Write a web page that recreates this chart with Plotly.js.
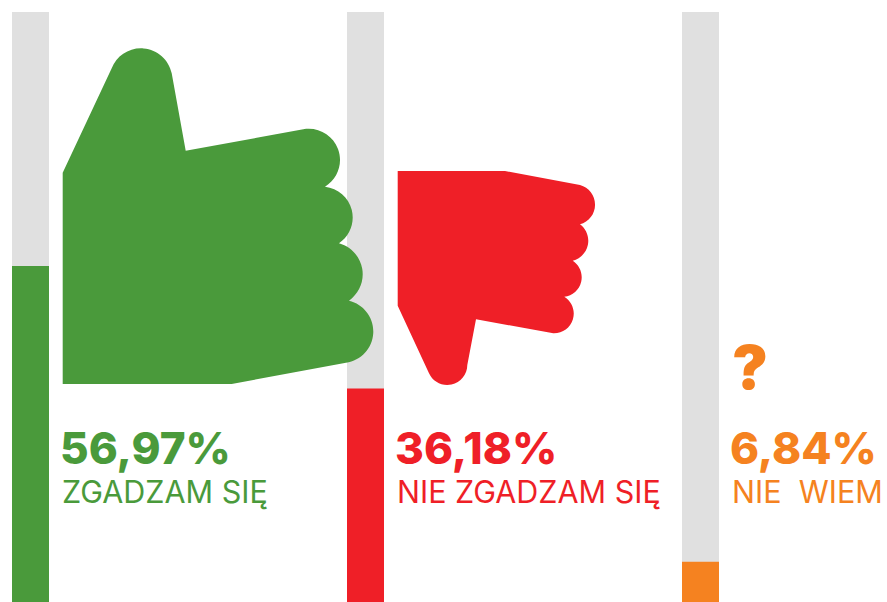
<!DOCTYPE html>
<html>
<head>
<meta charset="utf-8">
<script src="https://cdn.plot.ly/plotly-3.0.1.min.js"></script>
<style>html,body{margin:0;padding:0;background:#fff}#chart{width:887px;height:602px}</style>
</head>
<body>
<div id="chart"></div>
<script>
const categories = ["ZGADZAM SIĘ", "NIE ZGADZAM SIĘ", "NIE  WIEM"];
const values = [56.97, 36.18, 6.84];
const fullScale = [100, 100, 100];
const valueLabels = ["56,97%", "36,18%", "6,84%"];
const colors = ["#4A9A3B", "#EF1F27", "#F58220"];
const trackColor = "#E0E0E0";

const W = 887, H = 602, band = 335, firstCenter = 30.5, barW = 37, topGap = 12;

// Icon outlines: a point is a straight vertex, a triple [start, through, end] is a rounded arc.
const thumbUpOutline = [[62.7,172.7],
  [[111.7,68.3],[140,48.3],[171.7,73.3]],
  [185.7,150.7],
  [[303.3,129.3],[340,161],[325,186.7]],
  [[325,186.7],[352.7,217.7],[339,243.3]],
  [[339,243.3],[362.7,275],[349,300.7]],
  [[349,300.7],[373.3,331.7],[346,362.7]],
  [231.7,384],[62.7,384]];
const thumbDownOutline = [[397.7,171],[505,171],
  [[580,185],[595,203.3],[580,224.3]],
  [[580,224.3],[588.3,241],[572.7,260.7]],
  [[572.7,260.7],[581.7,277.7],[564.3,296.7]],
  [[564.3,296.7],[573.7,315],[553.3,333.3]],
  [476,319.3],
  [[467.3,365],[446.7,385],[429,373.3]],
  [397.7,305.7]];

function arcToCubics(a, b, c) {
  const d = 2*(a[0]*(b[1]-c[1]) + b[0]*(c[1]-a[1]) + c[0]*(a[1]-b[1]));
  const s = p => p[0]*p[0] + p[1]*p[1];
  const ux = (s(a)*(b[1]-c[1]) + s(b)*(c[1]-a[1]) + s(c)*(a[1]-b[1]))/d;
  const uy = (s(a)*(c[0]-b[0]) + s(b)*(a[0]-c[0]) + s(c)*(b[0]-a[0]))/d;
  const r = Math.hypot(a[0]-ux, a[1]-uy);
  const t0 = Math.atan2(a[1]-uy, a[0]-ux);
  let t1 = Math.atan2(c[1]-uy, c[0]-ux);
  while (t1 < t0) t1 += 2*Math.PI;          // clockwise on screen
  const n = Math.ceil((t1-t0)/(Math.PI/2));
  const st = (t1-t0)/n, k = 4/3*Math.tan(st/4)*r;
  let out = "";
  for (let i = 0; i < n; i++) {
    const p = t0 + i*st, q = p + st;
    const x0 = ux + r*Math.cos(p), y0 = uy + r*Math.sin(p);
    const x1 = ux + r*Math.cos(q), y1 = uy + r*Math.sin(q);
    out += ` C${x0 - k*Math.sin(p)},${y0 + k*Math.cos(p)} ${x1 + k*Math.sin(q)},${y1 - k*Math.cos(q)} ${x1},${y1}`;
  }
  return out;
}
function outlinePath(o) {
  let d = "", started = false;
  o.forEach(e => {
    const arc = Array.isArray(e[0]);
    const start = arc ? e[0] : e;
    d += (started ? " L" : "M") + start[0] + "," + start[1];
    started = true;
    if (arc) d += arcToCubics(e[0], e[1], e[2]);
  });
  return d + " Z";
}

const labelFont = "Inter, sans-serif";
const annotations = [];
categories.forEach((c, i) => {
  const lx = firstCenter + band * i + 30;
  annotations.push({xref:"x2", yref:"y2", x:lx - 1.5, y:448, xanchor:"left", yanchor:"middle", showarrow:false,
    text:valueLabels[i], borderpad:0, font:{family:labelFont, size:44, weight:800, color:colors[i]}});
  annotations.push({xref:"x2", yref:"y2", x:lx, y:491, xanchor:"left", yanchor:"middle", showarrow:false,
    text:c, borderpad:0, font:{family:labelFont, size:30.5, weight:400, color:colors[i]}});
});
annotations.push({xref:"x2", yref:"y2", x:firstCenter + band*2 + 30, y:367, xanchor:"left", yanchor:"middle", showarrow:false,
  text:"?", borderpad:0, font:{family:labelFont, size:60, weight:900, color:colors[2]}});

const common = {x:categories, type:"bar", width:barW/band, hoverinfo:"skip"};
const data = [
  Object.assign({}, common, {y:fullScale, marker:{color:trackColor, line:{width:0}}}),
  Object.assign({}, common, {y:values, marker:{color:colors, line:{width:0}}})
];
const layout = {
  width:W, height:H, margin:{l:0,r:0,t:0,b:0}, barmode:"overlay", showlegend:false,
  paper_bgcolor:"#fff", plot_bgcolor:"#fff",
  xaxis:{type:"category", categoryorder:"array", categoryarray:categories, range:[-firstCenter/band,(W-firstCenter)/band], visible:false, fixedrange:true},
  yaxis:{range:[0,100], domain:[0,(H-topGap)/H], visible:false, fixedrange:true},
  xaxis2:{range:[0,W], overlaying:"x", visible:false, fixedrange:true, anchor:"y2"},
  yaxis2:{range:[H,topGap], overlaying:"y", visible:false, fixedrange:true, anchor:"x2"},
  shapes:[
    {type:"path", xref:"x2", yref:"y2", path:outlinePath(thumbUpOutline), fillcolor:colors[0], line:{width:0}, layer:"above"},
    {type:"path", xref:"x2", yref:"y2", path:outlinePath(thumbDownOutline), fillcolor:colors[1], line:{width:0}, layer:"above"}
  ],
  annotations:annotations
};
Plotly.newPlot("chart", data, layout, {displayModeBar:false, staticPlot:true});
</script>
</body>
</html>
